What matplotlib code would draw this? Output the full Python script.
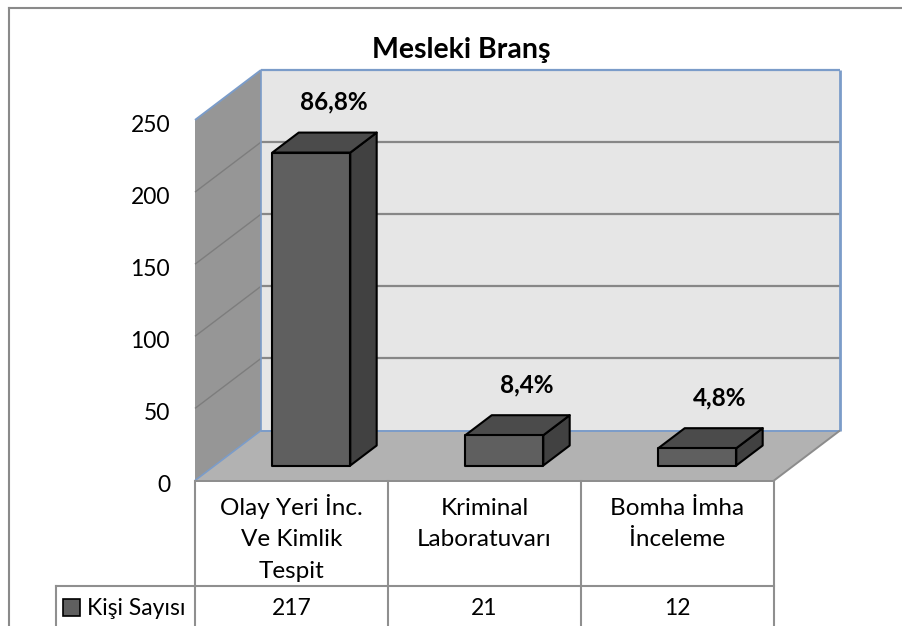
import matplotlib
matplotlib.use('Agg')
import matplotlib.pyplot as plt
from matplotlib.patches import Polygon, Rectangle
from matplotlib.lines import Line2D
from matplotlib.transforms import blended_transform_factory, ScaledTranslation

# ---------------- data ----------------
title = "Mesleki Branş"
categories = ["Olay Yeri İnc.\nVe Kimlik\nTespit", "Kriminal\nLaboratuvarı", "Bomha İmha\nİnceleme"]
values = [217, 21, 12]
percents = [86.8, 8.4, 4.8]
series_name = "Kişi Sayısı"
yticks = [0, 50, 100, 150, 200, 250]

plt.rcParams['font.family'] = ['Lato', 'DejaVu Sans']

W, H = 902, 626
fig = plt.figure(figsize=(W / 100, H / 100), dpi=100)
fig.patch.set_facecolor('white')

def fx(px):
    return px / W

def fy(py):
    return 1 - py / H

# front plane of the 3D plot
ax = fig.add_axes([fx(195), fy(480.5), fx(774) - fx(195), fy(120) - fy(480.5)])
n = len(categories)
ymax = yticks[-1]
ax.set_xlim(0, n)
ax.set_ylim(0, ymax)
ax.patch.set_visible(False)
for s in ax.spines.values():
    s.set_visible(False)
ax.set_xticks([])
ax.set_yticks(yticks)
ax.tick_params(axis='y', length=0, pad=18, labelsize=16.5)
for lab in ax.get_yticklabels():
    lab.set_transform(lab.get_transform() + ScaledTranslation(0, -3 / 100, fig.dpi_scale_trans))

# depth vector (in data units)
DX = 66 / 193.0
DY = 50 / (360.5 / ymax)

def P(x, v, z):
    return (x + z * DX, v + z * DY)

BLUE = '#7b9cc9'
GRID = '#878787'
EDGE = '#8c8c8c'

# walls and floor
back = Polygon([P(0, 0, 1), P(n, 0, 1), P(n, ymax, 1), P(0, ymax, 1)], closed=True,
               facecolor='#e6e6e6', edgecolor='none', clip_on=False, zorder=1)
side = Polygon([P(0, 0, 0), P(0, 0, 1), P(0, ymax, 1), P(0, ymax, 0)], closed=True,
               facecolor='#969696', edgecolor='none', clip_on=False, zorder=1)
floor = Polygon([P(0, 0, 0), P(n, 0, 0), P(n, 0, 1), P(0, 0, 1)], closed=True,
                facecolor='#b2b2b2', edgecolor='none', clip_on=False, zorder=1)
for p in (back, side, floor):
    ax.add_patch(p)

def seg(a, b, color, lw, z=2):
    ax.add_line(Line2D([a[0], b[0]], [a[1], b[1]], color=color, lw=lw,
                       clip_on=False, zorder=z, solid_capstyle='butt'))

for v in yticks[1:-1]:
    seg(P(0, v, 1), P(n, v, 1), GRID, 1.6)
    seg(P(0, v, 0), P(0, v, 1), '#7d7d7d', 1.0)

# wall edges
seg(P(0, ymax, 1), P(n, ymax, 1), BLUE, 1.6, 3)
seg(P(n, 0, 1), P(n, ymax, 1), BLUE, 2.0, 3)
seg(P(0, 0, 1), P(0, ymax, 1), BLUE, 1.2, 3)
seg(P(0, ymax, 0), P(0, ymax, 1), BLUE, 1.4, 3)
seg(P(0, 0, 1), P(n, 0, 1), BLUE, 1.4, 3)
seg(P(0, 0, 0), P(0, 0, 1), BLUE, 1.2, 3)
seg(P(0, 0, 0), P(n, 0, 0), EDGE, 1.4, 3)
seg(P(n, 0, 0), P(n, 0, 1), EDGE, 1.4, 3)

# bars
bw = 0.404
z0, z1 = 0.30, 0.70
for i, (v, pc) in enumerate(zip(values, percents)):
    c = i + 0.5
    x0, x1 = c - bw / 2, c + bw / 2
    sidef = Polygon([P(x1, 0, z0), P(x1, 0, z1), P(x1, v, z1), P(x1, v, z0)], closed=True,
                    facecolor='#414141', edgecolor='black', lw=1.5, clip_on=False, zorder=5,
                    joinstyle='round')
    top = Polygon([P(x0, v, z0), P(x1, v, z0), P(x1, v, z1), P(x0, v, z1)], closed=True,
                  facecolor='#4b4b4b', edgecolor='black', lw=1.5, clip_on=False, zorder=5,
                  joinstyle='round')
    front = Polygon([P(x0, 0, z0), P(x1, 0, z0), P(x1, v, z0), P(x0, v, z0)], closed=True,
                    facecolor='#5f5f5f', edgecolor='black', lw=1.5, clip_on=False, zorder=6,
                    joinstyle='round')
    for p in (sidef, top, front):
        ax.add_patch(p)
    txt = f"{pc:.1f}".replace('.', ',') + '%'
    ax.annotate(txt, xy=P(c, v, 0.5), xytext=(6.5, 23.8), textcoords='offset points',
                ha='center', va='baseline', fontsize=17.5, fontweight='bold',
                color='black', zorder=8, annotation_clip=False)

# title
fig.text(fx(461.5), fy(58), title, ha='center', va='baseline', fontsize=20.5,
         fontweight='bold', color='black')

# data table
bt = blended_transform_factory(ax.transData, fig.transFigure)
TBL = '#8f8f8f'
row_y = fy(586)
for k in range(n + 1):
    fig.add_artist(Line2D([k, k], [fy(480.5), 0], transform=bt, color=TBL, lw=1.5))
x_leg = (56 - 195) / 193.0
fig.add_artist(Line2D([x_leg, n], [row_y, row_y], transform=bt, color=TBL, lw=1.5))
fig.add_artist(Line2D([x_leg, x_leg], [row_y, 0], transform=bt, color=TBL, lw=1.5))

for i, cat in enumerate(categories):
    for j, line in enumerate(cat.split('\n')):
        fig.text(i + 0.5, fy(515 + 31.5 * j), line, transform=bt, ha='center',
                 va='baseline', fontsize=17.5, color='black')
    fig.text(i + 0.5, fy(615), str(values[i]), transform=bt, ha='center',
             va='baseline', fontsize=16.5, color='black')

fig.add_artist(Rectangle((fx(63), fy(616)), fx(17), 17 / H, transform=fig.transFigure,
                         facecolor='#5f5f5f', edgecolor='black', lw=1.2))
fig.text(fx(87), fy(615), series_name, ha='left', va='baseline', fontsize=16.5, color='black')

# outer chart border
fig.add_artist(Line2D([fx(9), 1], [fy(8), fy(8)], transform=fig.transFigure, color='#8a8a8a', lw=1.5))
fig.add_artist(Line2D([fx(9), fx(9)], [fy(8), 0], transform=fig.transFigure, color='#8a8a8a', lw=1.5))

fig.savefig('out.png', dpi=100, facecolor='white')
